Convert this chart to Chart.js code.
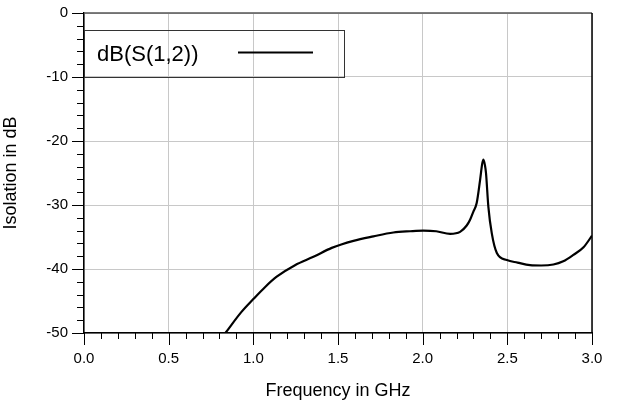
<!DOCTYPE html>
<html>
<head>
<meta charset="utf-8">
<script src="https://cdn.jsdelivr.net/npm/chart.js@4"></script>
<style>
  body { margin: 0; background: #fff; }
  #wrap { width: 617px; height: 405px; }
</style>
</head>
<body>
<div id="wrap"><canvas id="grafico" width="617" height="405"></canvas></div>
<script>
/* ================= DADOS ================= */
const frequencia = [0.835, 0.93, 1.0, 1.07, 1.138, 1.246, 1.355, 1.463, 1.591, 1.709,
  1.827, 1.926, 2.004, 2.08, 2.162, 2.221, 2.26, 2.28, 2.30, 2.319, 2.339, 2.352,
  2.359, 2.368, 2.374, 2.388, 2.408, 2.438, 2.497, 2.56, 2.634, 2.70, 2.772, 2.83,
  2.89, 2.95, 3.0];
const isolacao = [-50, -46.7, -44.7, -42.8, -41.2, -39.4, -38.1, -36.7, -35.6, -34.9,
  -34.3, -34.1, -34.0, -34.1, -34.5, -34.2, -33.2, -32.3, -31.0, -29.7, -26.1, -23.5,
  -22.9, -23.8, -25.0, -30.3, -34.4, -37.5, -38.6, -39.0, -39.4, -39.45, -39.3, -38.8,
  -37.8, -36.6, -34.8];
const nomeSerie = "dB(S(1,2))";
const tituloX = "Frequency in GHz";
const tituloY = "Isolation in dB";

const FONTE = "'Liberation Sans', Arial, sans-serif";

/* ================= MARCAS (ticks menores/maiores) e LEGENDA ================= */
const moldura = {
  id: "moldura",
  afterDraw(chart) {
    const { ctx, chartArea: a, scales: { x, y } } = chart;
    ctx.save();

    // borda superior e direita
    ctx.strokeStyle = "#555";
    ctx.lineWidth = 1.5;
    ctx.beginPath();
    ctx.moveTo(a.left, a.top);
    ctx.lineTo(a.right, a.top);
    ctx.stroke();
    ctx.strokeStyle = "#000";
    ctx.beginPath();
    ctx.moveTo(a.right, a.top);
    ctx.lineTo(a.right, a.bottom);
    ctx.stroke();

    // ticks do eixo x
    ctx.lineWidth = 1;
    for (let i = 0; i <= 30; i++) {
      const px = Math.round(x.getPixelForValue(i / 10)) + 0.5;
      const len = i % 5 === 0 ? 12 : 6;
      ctx.beginPath();
      ctx.moveTo(px, a.bottom);
      ctx.lineTo(px, a.bottom + len);
      ctx.stroke();
    }
    // ticks do eixo y
    for (let v = -50; v <= 0; v += 2) {
      const py = Math.round(y.getPixelForValue(v)) + 0.5;
      const len = v % 10 === 0 ? 12 : 7;
      ctx.beginPath();
      ctx.moveTo(a.left - len, py);
      ctx.lineTo(a.left, py);
      ctx.stroke();
    }

    // legenda
    const topo = 30, base = y.getPixelForValue(-10);
    const dir = 344;
    ctx.strokeStyle = "#333";
    ctx.lineWidth = 1;
    ctx.strokeRect(a.left + 0.5, topo + 0.5, dir - a.left, base - topo);
    const meio = (topo + base) / 2;
    ctx.fillStyle = "#000";
    ctx.font = "22px " + FONTE;
    ctx.textBaseline = "middle";
    ctx.textAlign = "left";
    ctx.fillText(nomeSerie, 97, meio + 1);
    ctx.lineWidth = 2;
    ctx.strokeStyle = "#000";
    ctx.beginPath();
    ctx.moveTo(238, meio - 1);
    ctx.lineTo(313, meio - 1);
    ctx.stroke();

    ctx.restore();
  }
};

/* ================= GRÁFICO ================= */
const grafico = new Chart(document.getElementById("grafico"), {
  type: "line",
  data: {
    datasets: [{
      label: nomeSerie,
      data: frequencia.map((f, i) => ({ x: f, y: isolacao[i] })),
      borderColor: "#000",
      borderWidth: 2.2,
      pointRadius: 0,
      cubicInterpolationMode: "monotone",
      fill: false
    }]
  },
  options: {
    responsive: false,
    animation: false,
    layout: { padding: { left: 0, top: 13, right: 25, bottom: 0 } },
    plugins: { legend: { display: false }, tooltip: { enabled: false } },
    scales: {
      x: {
        type: "linear",
        min: 0,
        max: 3,
        afterFit: s => { s.height = 72; s.paddingLeft = 0; s.paddingRight = 0; },
        ticks: {
          stepSize: 0.5,
          padding: 17,
          color: "#000",
          font: { family: FONTE, size: 15 },
          maxRotation: 0,
          callback: v => v.toFixed(1)
        },
        grid: { color: "#c8c8c8", lineWidth: 1, drawTicks: false },
        border: { color: "#000", width: 1.5 },
        title: {
          display: true,
          text: tituloX,
          color: "#000",
          font: { family: FONTE, size: 18 },
          padding: { top: 0, bottom: 3 }
        }
      },
      y: {
        min: -50,
        max: 0,
        afterFit: s => { s.width = 84; s.paddingTop = 0; s.paddingBottom = 0; },
        ticks: {
          stepSize: 10,
          padding: 16,
          color: "#000",
          font: { family: FONTE, size: 15 }
        },
        grid: { color: "#c8c8c8", lineWidth: 1, drawTicks: false },
        border: { color: "#000", width: 1.5 },
        title: {
          display: true,
          text: tituloY,
          color: "#000",
          font: { family: FONTE, size: 18 },
          padding: { top: 0, bottom: 0 }
        }
      }
    }
  },
  plugins: [moldura]
});
</script>
</body>
</html>
